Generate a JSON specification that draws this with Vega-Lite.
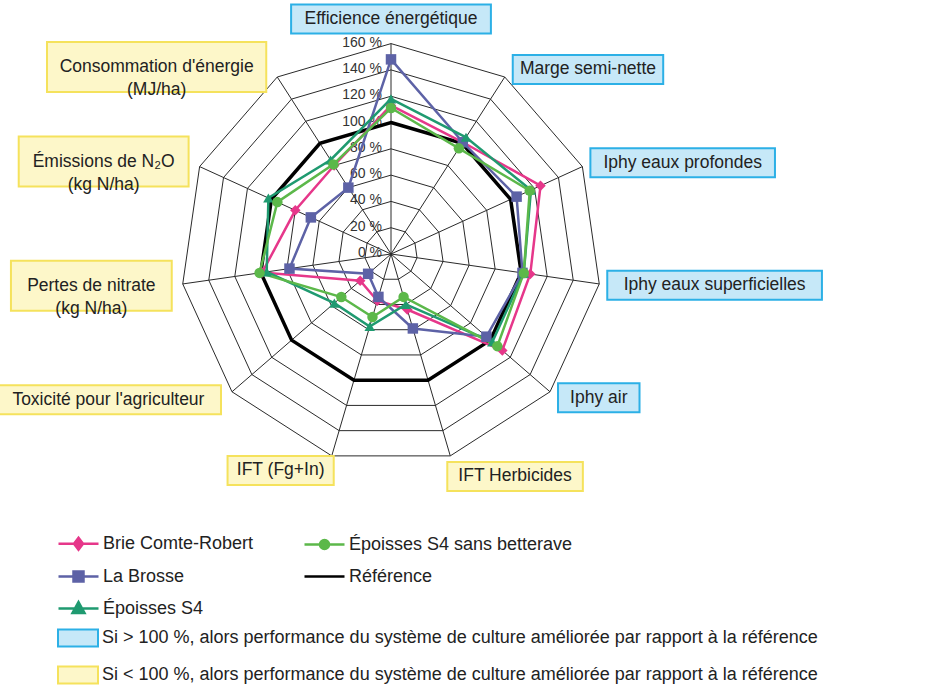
{
  "$schema": "https://vega.github.io/schema/vega-lite/v6.json",
  "width": 943,
  "height": 700,
  "autosize": "none",
  "padding": 0,
  "background": "white",
  "config": {"view": {"stroke": null}, "font": "Liberation Sans"},
  "datasets": {
    "axes": [
      {"ordre": 0, "axe": "Efficience énergétique", "label": "Efficience énergétique", "sens": "sup"},
      {"ordre": 1, "axe": "Marge semi-nette", "label": "Marge semi-nette", "sens": "sup"},
      {"ordre": 2, "axe": "Iphy eaux profondes", "label": "Iphy eaux profondes", "sens": "sup"},
      {"ordre": 3, "axe": "Iphy eaux superficielles", "label": "Iphy eaux superficielles", "sens": "sup"},
      {"ordre": 4, "axe": "Iphy air", "label": "Iphy air", "sens": "sup"},
      {"ordre": 5, "axe": "IFT Herbicides", "label": "IFT Herbicides", "sens": "inf"},
      {"ordre": 6, "axe": "IFT (Fg+In)", "label": "IFT (Fg+In)", "sens": "inf"},
      {"ordre": 7, "axe": "Toxicité pour l'agriculteur", "label": "Toxicité pour l'agriculteur", "sens": "inf"},
      {"ordre": 8, "axe": "Pertes de nitrate", "label": "Pertes de nitrate\n(kg N/ha)", "sens": "inf"},
      {"ordre": 9, "axe": "Émissions de N₂O", "label": "Émissions de N₂O\n(kg N/ha)", "sens": "inf"},
      {"ordre": 10, "axe": "Consommation d'énergie", "label": "Consommation d'énergie\n(MJ/ha)", "sens": "inf"}
    ],
    "graduations": [
      {"v": 0}, {"v": 20}, {"v": 40}, {"v": 60}, {"v": 80}, {"v": 100}, {"v": 120}, {"v": 140}, {"v": 160}
    ],
    "valeurs": [
      {"serie": "Référence", "axe": "Efficience énergétique", "valeur": 100},
      {"serie": "Référence", "axe": "Marge semi-nette", "valeur": 100},
      {"serie": "Référence", "axe": "Iphy eaux profondes", "valeur": 100},
      {"serie": "Référence", "axe": "Iphy eaux superficielles", "valeur": 100},
      {"serie": "Référence", "axe": "Iphy air", "valeur": 100},
      {"serie": "Référence", "axe": "IFT Herbicides", "valeur": 100},
      {"serie": "Référence", "axe": "IFT (Fg+In)", "valeur": 100},
      {"serie": "Référence", "axe": "Toxicité pour l'agriculteur", "valeur": 100},
      {"serie": "Référence", "axe": "Pertes de nitrate", "valeur": 100},
      {"serie": "Référence", "axe": "Émissions de N₂O", "valeur": 100},
      {"serie": "Référence", "axe": "Consommation d'énergie", "valeur": 100},
      {"serie": "Brie Comte-Robert", "axe": "Efficience énergétique", "valeur": 113},
      {"serie": "Brie Comte-Robert", "axe": "Marge semi-nette", "valeur": 101},
      {"serie": "Brie Comte-Robert", "axe": "Iphy eaux profondes", "valeur": 125},
      {"serie": "Brie Comte-Robert", "axe": "Iphy eaux superficielles", "valeur": 107},
      {"serie": "Brie Comte-Robert", "axe": "Iphy air", "valeur": 112},
      {"serie": "Brie Comte-Robert", "axe": "IFT Herbicides", "valeur": 44},
      {"serie": "Brie Comte-Robert", "axe": "IFT (Fg+In)", "valeur": 37},
      {"serie": "Brie Comte-Robert", "axe": "Toxicité pour l'agriculteur", "valeur": 31},
      {"serie": "Brie Comte-Robert", "axe": "Pertes de nitrate", "valeur": 99},
      {"serie": "Brie Comte-Robert", "axe": "Émissions de N₂O", "valeur": 80},
      {"serie": "Brie Comte-Robert", "axe": "Consommation d'énergie", "valeur": 80},
      {"serie": "La Brosse", "axe": "Efficience énergétique", "valeur": 148},
      {"serie": "La Brosse", "axe": "Marge semi-nette", "valeur": 101},
      {"serie": "La Brosse", "axe": "Iphy eaux profondes", "valeur": 105},
      {"serie": "La Brosse", "axe": "Iphy eaux superficielles", "valeur": 101},
      {"serie": "La Brosse", "axe": "Iphy air", "valeur": 96},
      {"serie": "La Brosse", "axe": "IFT Herbicides", "valeur": 59},
      {"serie": "La Brosse", "axe": "IFT (Fg+In)", "valeur": 34},
      {"serie": "La Brosse", "axe": "Toxicité pour l'agriculteur", "valeur": 23},
      {"serie": "La Brosse", "axe": "Pertes de nitrate", "valeur": 78},
      {"serie": "La Brosse", "axe": "Émissions de N₂O", "valeur": 67},
      {"serie": "La Brosse", "axe": "Consommation d'énergie", "valeur": 60},
      {"serie": "Époisses S4", "axe": "Efficience énergétique", "valeur": 118},
      {"serie": "Époisses S4", "axe": "Marge semi-nette", "valeur": 105.5},
      {"serie": "Époisses S4", "axe": "Iphy eaux profondes", "valeur": 117},
      {"serie": "Époisses S4", "axe": "Iphy eaux superficielles", "valeur": 102},
      {"serie": "Époisses S4", "axe": "Iphy air", "valeur": 102},
      {"serie": "Époisses S4", "axe": "IFT Herbicides", "valeur": 40},
      {"serie": "Époisses S4", "axe": "IFT (Fg+In)", "valeur": 57.5},
      {"serie": "Époisses S4", "axe": "Toxicité pour l'agriculteur", "valeur": 57},
      {"serie": "Époisses S4", "axe": "Pertes de nitrate", "valeur": 95.5},
      {"serie": "Époisses S4", "axe": "Émissions de N₂O", "valeur": 102.5},
      {"serie": "Époisses S4", "axe": "Consommation d'énergie", "valeur": 85},
      {"serie": "Époisses S4 sans betterave", "axe": "Efficience énergétique", "valeur": 111},
      {"serie": "Époisses S4 sans betterave", "axe": "Marge semi-nette", "valeur": 95.5},
      {"serie": "Époisses S4 sans betterave", "axe": "Iphy eaux profondes", "valeur": 116},
      {"serie": "Époisses S4 sans betterave", "axe": "Iphy eaux superficielles", "valeur": 102},
      {"serie": "Époisses S4 sans betterave", "axe": "Iphy air", "valeur": 107},
      {"serie": "Époisses S4 sans betterave", "axe": "IFT Herbicides", "valeur": 34},
      {"serie": "Époisses S4 sans betterave", "axe": "IFT (Fg+In)", "valeur": 50},
      {"serie": "Époisses S4 sans betterave", "axe": "Toxicité pour l'agriculteur", "valeur": 50},
      {"serie": "Époisses S4 sans betterave", "axe": "Pertes de nitrate", "valeur": 101},
      {"serie": "Époisses S4 sans betterave", "axe": "Émissions de N₂O", "valeur": 95},
      {"serie": "Époisses S4 sans betterave", "axe": "Consommation d'énergie", "valeur": 81}
    ]
  },
  "encoding": {
    "x": {"field": "px", "type": "quantitative", "scale": {"domain": [-297.34, 419.77], "nice": false, "zero": false}, "axis": null},
    "y": {"field": "py", "type": "quantitative", "scale": {"domain": [-339.16, 193.16], "nice": false, "zero": false}, "axis": null}
  },
  "resolve": {"scale": {"fill": "independent", "stroke": "independent", "shape": "independent"}},
  "layer": [
    {
      "data": {"name": "axes"},
      "transform": [
        {"calculate": "[20, 40, 60, 80, 100, 120, 140, 160]", "as": "niveau"},
        {"flatten": ["niveau"]},
        {"calculate": "datum.niveau * sin(datum.ordre * 2 * PI / 11)", "as": "px"},
        {"calculate": "datum.niveau * cos(datum.ordre * 2 * PI / 11)", "as": "py"}
      ],
      "mark": {"type": "line", "interpolate": "linear-closed", "stroke": "#2a2a2a", "strokeWidth": 1},
      "encoding": {
        "detail": {"field": "niveau", "type": "nominal"},
        "order": {"field": "ordre", "type": "quantitative"}
      }
    },
    {
      "data": {"name": "axes"},
      "transform": [
        {"calculate": "160 * sin(datum.ordre * 2 * PI / 11)", "as": "px"},
        {"calculate": "160 * cos(datum.ordre * 2 * PI / 11)", "as": "py"}
      ],
      "mark": {"type": "rule", "stroke": "#2a2a2a", "strokeWidth": 1},
      "encoding": {"x2": {"datum": 0}, "y2": {"datum": 0}}
    },
    {
      "data": {"name": "graduations"},
      "transform": [
        {"calculate": "0", "as": "px"},
        {"calculate": "datum.v", "as": "py"},
        {"calculate": "datum.v + ' %'", "as": "etiquette"}
      ],
      "mark": {"type": "text", "align": "right", "baseline": "middle", "dx": -9, "dy": -1, "fontSize": 14, "color": "#333333"},
      "encoding": {"text": {"field": "etiquette"}}
    },
    {
      "data": {"name": "axes"},
      "transform": [
        {"calculate": "datum.ordre * 2 * PI / 11", "as": "th"},
        {"calculate": "160 * sin(datum.th)", "as": "vx"},
        {"calculate": "160 * cos(datum.th)", "as": "vy"},
        {"calculate": "split(datum.label, '\\n')[0]", "as": "l1"},
        {"calculate": "length(split(datum.label, '\\n')) > 1 ? split(datum.label, '\\n')[1] : ''", "as": "l2"},
        {"calculate": "17.5 * (0.56 * length(datum.l1) - 0.27 * (length(datum.l1) - length(replace(datum.l1, regexp(\"[iltfjrI' ().-]\", \"g\"), ''))))", "as": "w1"},
        {"calculate": "17.5 * (0.56 * length(datum.l2) - 0.27 * (length(datum.l2) - length(replace(datum.l2, regexp(\"[iltfjrI' ().-]\", \"g\"), ''))))", "as": "w2"},
        {"calculate": "max(datum.w1, datum.w2) + (datum.l2 == '' ? 22 : 32)", "as": "bw"},
        {"calculate": "datum.l2 == '' ? 29 : 50", "as": "bh"},
        {"calculate": "datum.ordre == 0 ? 0 : datum.ordre <= 4 ? datum.vx + (8 + datum.bw / 2) / 1.315 : datum.ordre == 5 ? datum.vx + (datum.bw / 2 - 3) / 1.315 : datum.ordre == 6 ? datum.vx - (datum.bw / 2 - 2) / 1.315 : datum.vx - (11 + datum.bw / 2) / 1.315", "as": "px"},
        {"calculate": "datum.ordre == 0 ? datum.vy + (10 + datum.bh / 2) / 1.315 : datum.ordre == 5 ? datum.vy - (6 + datum.bh / 2) / 1.315 : datum.ordre == 6 ? datum.vy - (datum.bh / 2) / 1.315 : datum.ordre <= 4 ? datum.vy + 9 * cos(datum.th) / 1.315 : datum.vy + 12 * cos(datum.th) / 1.315", "as": "py"},
        {"calculate": "datum.px - datum.bw / 2 / 1.315", "as": "bx1"},
        {"calculate": "datum.px + datum.bw / 2 / 1.315", "as": "bx2"},
        {"calculate": "datum.py - datum.bh / 2 / 1.315", "as": "by1"},
        {"calculate": "datum.py + datum.bh / 2 / 1.315", "as": "by2"}
      ],
      "layer": [
        {
          "mark": {"type": "rect", "strokeWidth": 2},
          "encoding": {
            "x": {"field": "bx1", "type": "quantitative"},
            "x2": {"field": "bx2"},
            "y": {"field": "by1", "type": "quantitative"},
            "y2": {"field": "by2"},
            "fill": {
              "field": "sens", "type": "nominal",
              "scale": {"domain": ["sup", "inf"], "range": ["#c6e8f8", "#fdf7c9"]},
              "legend": {"orient": "none", "legendX": 67, "legendY": 627, "title": null, "direction": "vertical", "padding": 0, "rowPadding": 11, "symbolType": "M-2,-0.85H2V0.85H-2Z", "symbolSize": 400, "symbolStrokeWidth": 2, "labelFontSize": 18, "labelColor": "#222222", "labelOffset": 13, "labelLimit": 900, "labelExpr": "datum.value == 'sup' ? 'Si > 100 %, alors performance du système de culture améliorée par rapport à la référence' : 'Si < 100 %, alors performance du système de culture améliorée par rapport à la référence'"}
            },
            "stroke": {
              "field": "sens", "type": "nominal",
              "scale": {"domain": ["sup", "inf"], "range": ["#2cb0e6", "#f5e25c"]},
              "legend": {"orient": "none", "legendX": 67, "legendY": 627, "title": null, "direction": "vertical", "padding": 0, "rowPadding": 11, "symbolType": "M-2,-0.85H2V0.85H-2Z", "symbolSize": 400, "symbolStrokeWidth": 2, "labelFontSize": 18, "labelColor": "#222222", "labelOffset": 13, "labelLimit": 900, "labelExpr": "datum.value == 'sup' ? 'Si > 100 %, alors performance du système de culture améliorée par rapport à la référence' : 'Si < 100 %, alors performance du système de culture améliorée par rapport à la référence'"}
            }
          }
        },
        {
          "mark": {"type": "text", "align": "center", "baseline": "middle", "fontSize": 17.5, "lineBreak": "\n", "lineHeight": 23, "color": "#222222"},
          "encoding": {"text": {"field": "label"}}
        }
      ]
    },
    {
      "data": {"name": "valeurs"},
      "transform": [
        {"lookup": "axe", "from": {"data": {"name": "axes"}, "key": "axe", "fields": ["ordre"]}},
        {"calculate": "datum.valeur * sin(datum.ordre * 2 * PI / 11)", "as": "px"},
        {"calculate": "datum.valeur * cos(datum.ordre * 2 * PI / 11)", "as": "py"}
      ],
      "mark": {"type": "line", "interpolate": "linear-closed"},
      "encoding": {
        "color": {
          "field": "serie", "type": "nominal",
          "scale": {"domain": ["Référence", "Brie Comte-Robert", "La Brosse", "Époisses S4", "Époisses S4 sans betterave"], "range": ["#000000", "#e6378a", "#5d62a6", "#1f9a70", "#5cb84a"]},
          "legend": null
        },
        "strokeWidth": {"condition": {"test": "datum.serie === 'Référence'", "value": 3.5}, "value": 2.5},
        "order": {"field": "ordre", "type": "quantitative"}
      }
    },
    {
      "data": {"name": "valeurs"},
      "transform": [
        {"filter": "datum.serie !== 'Référence'"},
        {"lookup": "axe", "from": {"data": {"name": "axes"}, "key": "axe", "fields": ["ordre"]}},
        {"calculate": "datum.valeur * sin(datum.ordre * 2 * PI / 11)", "as": "px"},
        {"calculate": "datum.valeur * cos(datum.ordre * 2 * PI / 11)", "as": "py"}
      ],
      "mark": {"type": "point", "filled": true, "opacity": 1, "size": 110},
      "encoding": {
        "color": {"field": "serie", "type": "nominal", "legend": null},
        "shape": {
          "field": "serie", "type": "nominal",
          "scale": {"domain": ["Brie Comte-Robert", "La Brosse", "Époisses S4", "Époisses S4 sans betterave"], "range": ["diamond", "square", "triangle-up", "circle"]},
          "legend": null
        }
      }
    },
    {
      "data": {"values": []},
      "mark": {"type": "point", "filled": true, "opacity": 1},
      "encoding": {
        "fill": {
          "field": "serie", "type": "nominal",
          "scale": {"domain": ["Brie Comte-Robert", "La Brosse", "Époisses S4", "Époisses S4 sans betterave", "Référence"], "range": ["#e6378a", "#5d62a6", "#1f9a70", "#5cb84a", "#000000"]},
          "legend": {"orient": "none", "legendX": 67, "legendY": 532, "title": null, "columns": 2, "padding": 0, "columnPadding": 45, "rowPadding": 10, "symbolSize": 400, "symbolStrokeWidth": 2.5, "symbolOpacity": 1, "labelFontSize": 18, "labelColor": "#222222", "labelOffset": 13, "labelLimit": 400}
        },
        "stroke": {
          "field": "serie", "type": "nominal",
          "scale": {"domain": ["Brie Comte-Robert", "La Brosse", "Époisses S4", "Époisses S4 sans betterave", "Référence"], "range": ["#e6378a", "#5d62a6", "#1f9a70", "#5cb84a", "#000000"]},
          "legend": {"orient": "none", "legendX": 67, "legendY": 532, "title": null, "columns": 2, "padding": 0, "columnPadding": 45, "rowPadding": 10, "symbolSize": 400, "symbolStrokeWidth": 2.5, "symbolOpacity": 1, "labelFontSize": 18, "labelColor": "#222222", "labelOffset": 13, "labelLimit": 400}
        },
        "shape": {
          "field": "serie", "type": "nominal",
          "scale": {"domain": ["Brie Comte-Robert", "La Brosse", "Époisses S4", "Époisses S4 sans betterave", "Référence"], "range": ["M-2,0H2M0,-0.6L0.45,0L0,0.6L-0.45,0Z", "M-2,0H2M-0.5,-0.5H0.5V0.5H-0.5Z", "M-2,0H2M0,-0.65L0.6,0.45H-0.6Z", "M-2,0H2M0.45,0A0.45,0.45,0,1,1,-0.45,0A0.45,0.45,0,1,1,0.45,0Z", "M-2,0H2"]},
          "legend": {"orient": "none", "legendX": 67, "legendY": 532, "title": null, "columns": 2, "padding": 0, "columnPadding": 45, "rowPadding": 10, "symbolSize": 400, "symbolStrokeWidth": 2.5, "symbolOpacity": 1, "labelFontSize": 18, "labelColor": "#222222", "labelOffset": 13, "labelLimit": 400}
        }
      }
    }
  ]
}
